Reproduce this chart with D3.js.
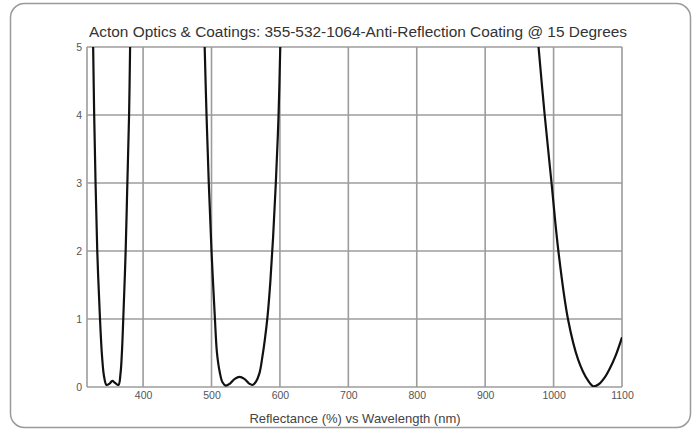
<!DOCTYPE html>
<html>
<head>
<meta charset="utf-8">
<script src="https://cdn.jsdelivr.net/npm/d3@7"></script>
<style>
  html, body { margin: 0; padding: 0; background: #fff; }
  svg { display: block; }
</style>
</head>
<body>
<svg id="chart" width="696" height="433"></svg>
<script>
// ---- Data ----
const chartTitle = "Acton Optics & Coatings: 355-532-1064-Anti-Reflection Coating @ 15 Degrees";
const axisTitle = "Reflectance (%) vs Wavelength (nm)";
const xTicks = [400, 500, 600, 700, 800, 900, 1000, 1100];
const yTicks = [0, 1, 2, 3, 4, 5];

// Band around 355 nm
const band355Wavelength = [327, 328.5, 330.5, 333, 337, 340, 343, 346.5, 351, 355, 359, 364, 367, 369, 371, 374.5, 377, 379.5, 381];
const band355Reflectance = [5.0, 4.0, 3.0, 2.0, 1.0, 0.45, 0.15, 0.03, 0.05, 0.09, 0.06, 0.03, 0.2, 0.5, 1.0, 2.0, 3.0, 4.0, 5.0];

// Band around 532 nm
const band532Wavelength = [490, 492.7, 496, 500, 505, 508, 512, 516, 521, 527, 534, 541, 548, 555, 560, 565, 570, 574, 578, 582, 586, 590, 594, 598, 600.5];
const band532Reflectance = [5.0, 4.0, 3.0, 2.0, 1.0, 0.5, 0.22, 0.07, 0.02, 0.05, 0.12, 0.15, 0.12, 0.05, 0.03, 0.08, 0.2, 0.42, 0.7, 1.05, 1.55, 2.2, 3.0, 4.0, 5.0];

// Band around 1064 nm
const band1064Wavelength = [978, 987, 997, 1007, 1021, 1036, 1050, 1058, 1066, 1074, 1082, 1091, 1100];
const band1064Reflectance = [5.0, 4.0, 3.0, 2.0, 1.0, 0.4, 0.1, 0.01, 0.04, 0.13, 0.27, 0.47, 0.73];

// ---- Layout ----
const svg = d3.select("#chart");
const plot = { left: 87, right: 622, top: 47, bottom: 387 };

const x = d3.scaleLinear().domain([318, 1100]).range([plot.left, plot.right]);
const y = d3.scaleLinear().domain([0, 5]).range([plot.bottom, plot.top]);

// Frame
svg.append("rect")
  .attr("x", 10.5).attr("y", 3.5)
  .attr("width", 680).attr("height", 424)
  .attr("rx", 14).attr("ry", 14)
  .attr("fill", "#fff")
  .attr("stroke", "#9a9a9a")
  .attr("stroke-width", 1.5);

// Clip
svg.append("clipPath").attr("id", "plotClip")
  .append("rect")
  .attr("x", plot.left).attr("y", plot.top)
  .attr("width", plot.right - plot.left)
  .attr("height", plot.bottom - plot.top);

// Grid lines
const grid = svg.append("g").attr("class", "grid");
grid.selectAll("line.h").data(yTicks).join("line")
  .attr("class", "h")
  .attr("x1", plot.left).attr("x2", plot.right)
  .attr("y1", d => y(d)).attr("y2", d => y(d))
  .attr("stroke", "#9c9c9c").attr("stroke-width", 1.6);
grid.selectAll("line.v").data(xTicks).join("line")
  .attr("class", "v")
  .attr("y1", plot.top).attr("y2", plot.bottom)
  .attr("x1", d => x(d)).attr("x2", d => x(d))
  .attr("stroke", "#9c9c9c").attr("stroke-width", 1.6);
// Left edge
grid.append("line")
  .attr("x1", plot.left).attr("x2", plot.left)
  .attr("y1", plot.top).attr("y2", plot.bottom)
  .attr("stroke", "#9c9c9c").attr("stroke-width", 1.6);

// Axes (labels only, lines drawn by grid)
const xAxis = d3.axisBottom(x).tickValues(xTicks).tickSize(0).tickPadding(5).tickFormat(d3.format("d"));
const yAxis = d3.axisLeft(y).tickValues(yTicks).tickSize(0).tickPadding(5).tickFormat(d3.format("d"));

const gx = svg.append("g").attr("transform", `translate(0,${plot.bottom})`).call(xAxis);
const gy = svg.append("g").attr("transform", `translate(${plot.left},0)`).call(yAxis);
[gx, gy].forEach(g => {
  g.select(".domain").remove();
  g.selectAll("text")
    .attr("fill", "#555")
    .style("font-family", "'Liberation Sans Narrow', 'Liberation Sans', Arial, sans-serif")
    .style("font-size", "10.5px");
});

// Curves
const line = d3.line()
  .x(d => x(d[0]))
  .y(d => y(d[1]))
  .curve(d3.curveCatmullRom.alpha(0.5));

const bands = [
  d3.zip(band355Wavelength, band355Reflectance),
  d3.zip(band532Wavelength, band532Reflectance),
  d3.zip(band1064Wavelength, band1064Reflectance)
];

svg.append("g").attr("clip-path", "url(#plotClip)")
  .selectAll("path").data(bands).join("path")
  .attr("d", line)
  .attr("fill", "none")
  .attr("stroke", "#111")
  .attr("stroke-width", 2.2)
  .attr("stroke-linejoin", "round");

// Title
svg.append("text")
  .attr("x", 89).attr("y", 37)
  .attr("textLength", 538)
  .attr("lengthAdjust", "spacingAndGlyphs")
  .attr("fill", "#333")
  .style("font-family", "'Liberation Sans', Arial, sans-serif")
  .style("font-size", "14px")
  .text(chartTitle);

// Axis title
svg.append("text")
  .attr("x", 355).attr("y", 423)
  .attr("text-anchor", "middle")
  .attr("fill", "#444")
  .style("font-family", "'Liberation Sans', Arial, sans-serif")
  .style("font-size", "13px")
  .text(axisTitle);
</script>
</body>
</html>
